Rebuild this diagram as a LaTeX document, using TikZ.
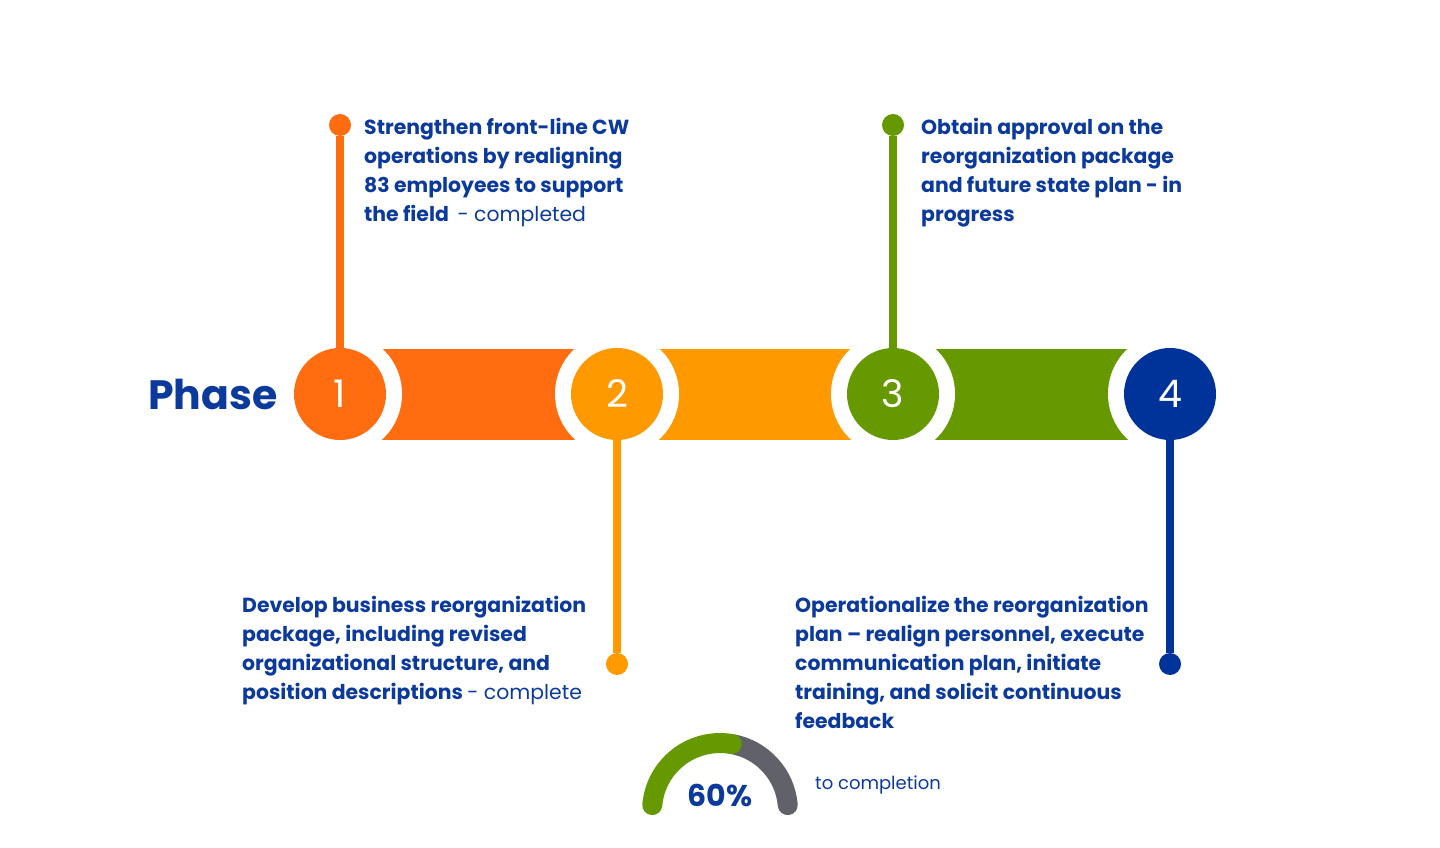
\documentclass[tikz,border=0pt]{standalone}
\usepackage{fontspec}
\setmainfont{Poppins}
\usetikzlibrary{positioning}

\definecolor{phaseA}{HTML}{FF6D10}
\definecolor{phaseB}{HTML}{FF9900}
\definecolor{phaseC}{HTML}{669900}
\definecolor{phaseD}{HTML}{003399}
\definecolor{inkblue}{HTML}{0B3A9C}
\definecolor{gaugegrey}{HTML}{616269}

\tikzset{
  phasenum/.style={circle,minimum size=92pt,inner sep=0pt,text=white,
    font=\fontsize{38}{38}\selectfont},
  stemdot/.style={circle,minimum size=22pt,inner sep=0pt},
  stem/.style={line width=8pt},
  desc/.style={anchor=north west,inner sep=0pt,align=left,text=inkblue,
    font=\fontsize{20.4}{29}\selectfont\bfseries}
}

\begin{document}
\begin{tikzpicture}[x=1pt,y=1pt]
  \useasboundingbox (0,0) rectangle (1440,847);

  \coordinate (c1) at (340,453);
  \coordinate (c2) at (617,453);
  \coordinate (c3) at (893,453);
  \coordinate (c4) at (1170,453);

  % bands between the phases
  \fill[phaseA] (340,407) rectangle (617,498);
  \fill[phaseB] (617,407) rectangle (893,498);
  \fill[phaseC] (893,407) rectangle (1170,498);
  \foreach \c in {c1,c2,c3,c4}
    \fill[white] (\c) circle (62pt);

  \node[font=\fontsize{41}{41}\selectfont\bfseries,text=inkblue] (phase) at (213,453) {Phase};

  \begin{scope}[every node/.style=phasenum]
    \node[fill=phaseA] (p1) at (c1) {1};
    \node[fill=phaseB] (p2) at (c2) {2};
    \node[fill=phaseC] (p3) at (c3) {3};
    \node[fill=phaseD] (p4) at (c4) {4};
  \end{scope}
  \begin{scope}[every node/.style=stemdot]
    \node[fill=phaseA] (d1) at (340,722) {};
    \node[fill=phaseB] (d2) at (617,183) {};
    \node[fill=phaseC] (d3) at (893,722) {};
    \node[fill=phaseD] (d4) at (1170,183) {};
  \end{scope}
  \begin{scope}[every edge/.style={draw,stem}]
    \path (p1) edge[phaseA] (d1);
    \path (p2) edge[phaseB] (d2);
    \path (p3) edge[phaseC] (d3);
    \path (p4) edge[phaseD] (d4);
  \end{scope}

  % descriptions
  \node[desc] (t1) at (364,729) {Strengthen front-line CW\\operations by realigning\\83 employees to support\\the field \ {\mdseries - completed}};
  \node[desc] (t2) at (242,251) {Develop business reorganization\\package, including revised\\organizational structure, and\\position descriptions {\mdseries - complete}};
  \node[desc] (t3) at (921,729) {Obtain approval on the\\reorganization package\\and future state plan - in\\progress};
  \node[desc] (t4) at (795,251) {Operationalize the reorganization\\plan – realign personnel, execute\\communication plan, initiate\\training, and solicit continuous\\feedback};

  % completion gauge
  \coordinate (gc) at (720,36);
  \draw[gaugegrey,line width=20pt,line cap=round] ([shift={(80:68)}]gc) arc[start angle=80,end angle=5,radius=68];
  \draw[phaseC,line width=20pt,line cap=round] ([shift={(175:68)}]gc) arc[start angle=175,end angle=80,radius=68];
  \node[font=\fontsize{30}{30}\selectfont\bfseries,text=inkblue] (pct) at (720,52) {60\%};
  \node[anchor=west,inner sep=0pt,font=\fontsize{18}{22}\selectfont,text=inkblue] (tocomp) at (815,62) {to completion};
\end{tikzpicture}
\end{document}
